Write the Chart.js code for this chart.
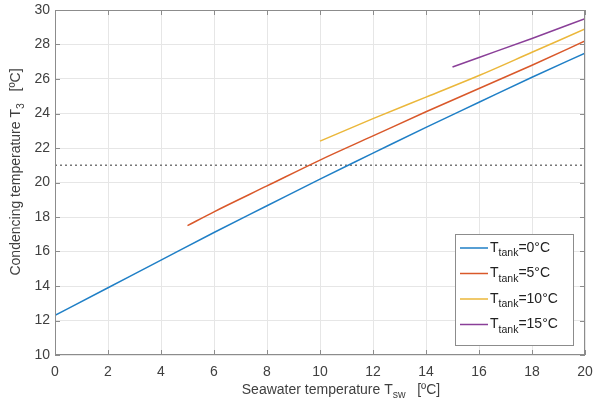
<!DOCTYPE html>
<html>
<head>
<meta charset="utf-8">
<script src="https://cdn.jsdelivr.net/npm/chart.js@4/dist/chart.umd.min.js"></script>
<style>
  body { margin: 0; background: #fff; }
  #wrap { width: 593px; height: 406px; }
</style>
</head>
<body>
<div id="wrap"><canvas id="chart" width="593" height="406"></canvas></div>
<script>
// Seawater temperature (x) and condensing temperature (y) per tank temperature
const xTank0 = [0, 2, 4, 6, 8, 10, 12, 14, 16, 18, 20];
const yTank0 = [12.3, 13.9, 15.5, 17.1, 18.65, 20.2, 21.7, 23.2, 24.65, 26.1, 27.5];
const xTank5 = [5, 6, 8, 10, 12, 14, 16, 18, 20];
const yTank5 = [17.5, 18.3, 19.8, 21.3, 22.7, 24.1, 25.45, 26.8, 28.2];
const xTank10 = [10, 12, 14, 16, 18, 20];
const yTank10 = [22.4, 23.7, 24.95, 26.2, 27.55, 28.9];
const xTank15 = [15, 16, 18, 20];
const yTank15 = [26.7, 27.25, 28.35, 29.5];
const limitLine = 21;

const tankLabels = ['=0°C', '=5°C', '=10°C', '=15°C'];
const colors = ['#1f7fc6', '#d9582a', '#ebb73a', '#8a3f98'];

const FONT = '"Liberation Sans", Arial, sans-serif';
const TXT = '#404040';
const BOX = '#8c8c8c';

function pts(xs, ys) {
  return xs.map((x, i) => ({ x: x, y: ys[i] }));
}

const series = [pts(xTank0, yTank0), pts(xTank5, yTank5), pts(xTank10, yTank10), pts(xTank15, yTank15)];

const datasets = series.map((d, i) => ({
  label: 'T tank' + tankLabels[i],
  data: d,
  borderColor: colors[i],
  backgroundColor: colors[i],
  borderWidth: 1.5,
  showLine: true,
  pointRadius: 0,
  cubicInterpolationMode: 'monotone'
}));

datasets.push({
  label: 'limit',
  data: [{ x: 0, y: limitLine }, { x: 20, y: limitLine }],
  borderColor: '#777',
  borderWidth: 1.5,
  borderDash: [2, 3],
  showLine: true,
  pointRadius: 0
});

// text with a subscript part, returns end x
function subText(ctx, x, y, main, sub, rest, size) {
  ctx.font = size + 'px ' + FONT;
  ctx.fillText(main, x, y);
  x += ctx.measureText(main).width;
  ctx.font = (size * 0.75) + 'px ' + FONT;
  ctx.fillText(sub, x, y + size * 0.4);
  x += ctx.measureText(sub).width;
  ctx.font = size + 'px ' + FONT;
  ctx.fillText(rest, x, y);
  return x + ctx.measureText(rest).width;
}

function subWidth(ctx, main, sub, rest, size) {
  ctx.font = size + 'px ' + FONT;
  let w = ctx.measureText(main).width + ctx.measureText(rest).width;
  ctx.font = (size * 0.75) + 'px ' + FONT;
  return w + ctx.measureText(sub).width;
}

const decor = {
  id: 'decor',
  afterDatasetsDraw(chart) {
    const ctx = chart.ctx;
    const a = chart.chartArea;
    const xs = chart.scales.x, ys = chart.scales.y;
    ctx.save();
    // box
    ctx.strokeStyle = BOX;
    ctx.lineWidth = 1;
    ctx.strokeRect(a.left + 0.5, a.top + 0.5, a.right - a.left - 1, a.bottom - a.top - 1);
    // inward ticks
    ctx.beginPath();
    xs.ticks.forEach(t => {
      const px = Math.round(xs.getPixelForValue(t.value)) + 0.5;
      ctx.moveTo(px, a.bottom); ctx.lineTo(px, a.bottom - 5);
      ctx.moveTo(px, a.top); ctx.lineTo(px, a.top + 5);
    });
    ys.ticks.forEach(t => {
      const py = Math.round(ys.getPixelForValue(t.value)) + 0.5;
      ctx.moveTo(a.left, py); ctx.lineTo(a.left + 5, py);
      ctx.moveTo(a.right, py); ctx.lineTo(a.right - 5, py);
    });
    ctx.stroke();

    // axis titles
    ctx.fillStyle = TXT;
    ctx.textBaseline = 'middle';
    ctx.textAlign = 'left';
    const wx = subWidth(ctx, 'Seawater temperature T', 'sw', '   [ºC]', 14);
    subText(ctx, 341 - wx / 2, 390, 'Seawater temperature T', 'sw', '   [ºC]', 14);

    ctx.save();
    ctx.translate(16, 172);
    ctx.rotate(-Math.PI / 2);
    const wy = subWidth(ctx, 'Condencing temperature T', '3', '   [ºC]', 14);
    subText(ctx, -wy / 2, 0, 'Condencing temperature T', '3', '   [ºC]', 14);
    ctx.restore();

    // legend
    const lx = 455, ly = 234, lw = 118, lh = 111;
    ctx.fillStyle = '#fff';
    ctx.fillRect(lx, ly, lw, lh);
    ctx.strokeStyle = BOX;
    ctx.lineWidth = 1;
    ctx.strokeRect(lx + 0.5, ly + 0.5, lw, lh);
    tankLabels.forEach((lab, i) => {
      const y = 248 + i * 25.5;
      ctx.strokeStyle = colors[i];
      ctx.lineWidth = 1.5;
      ctx.beginPath();
      ctx.moveTo(460, y); ctx.lineTo(488, y);
      ctx.stroke();
      ctx.fillStyle = '#222';
      subText(ctx, 490, y, 'T', 'tank', lab, 14);
    });
    ctx.restore();
  }
};

new Chart(document.getElementById('chart'), {
  type: 'scatter',
  data: { datasets: datasets },
  options: {
    responsive: false,
    animation: false,
    layout: { padding: { top: 10, right: 8, left: 0, bottom: 0 } },
    plugins: { legend: { display: false }, tooltip: { enabled: false } },
    scales: {
      x: {
        type: 'linear', min: 0, max: 20,
        afterFit(s) { s.height = 51; s.paddingRight = 0; s.paddingLeft = 0; },
        ticks: { stepSize: 2, color: TXT, font: { family: FONT, size: 14 }, padding: 9 },
        grid: { color: '#e6e6e6', drawTicks: false },
        border: { display: false }
      },
      y: {
        type: 'linear', min: 10, max: 30,
        afterFit(s) { s.width = 55; s.paddingTop = 0; s.paddingBottom = 0; },
        ticks: { stepSize: 2, color: TXT, font: { family: FONT, size: 14 }, padding: 5 },
        grid: { color: '#e6e6e6', drawTicks: false },
        border: { display: false }
      }
    }
  },
  plugins: [decor]
});
</script>
</body>
</html>
